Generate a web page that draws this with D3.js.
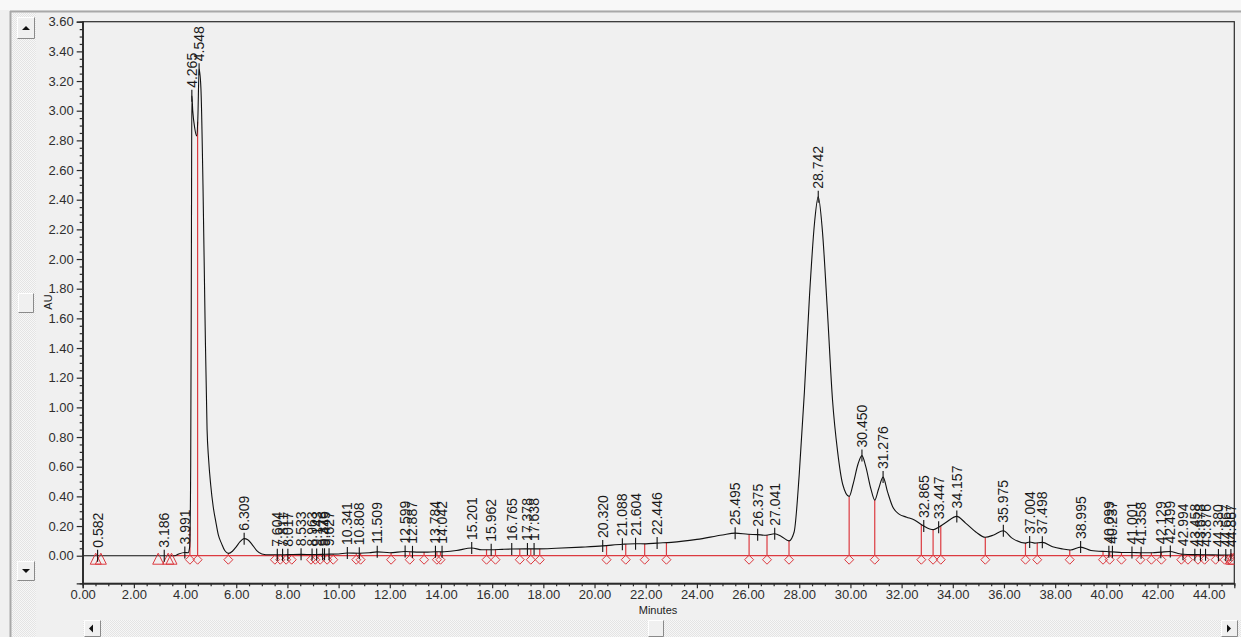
<!DOCTYPE html>
<html><head><meta charset="utf-8">
<script src="https://cdn.jsdelivr.net/npm/d3@7"></script>
<style>
html,body{margin:0;padding:0;background:#f0f0f0;overflow:hidden}
svg{display:block;font-family:"Liberation Sans",Arial,sans-serif}
</style></head><body>
<svg id="chart" width="1241" height="637"></svg>
<script>
// Detector trace: retention time (min) and absorbance (AU)
const traceTime = [0.0, 0.5, 3.0, 3.6, 3.75, 3.991, 4.12, 4.18, 4.22, 4.25, 4.265, 4.30, 4.38, 4.45, 4.50, 4.548, 4.62, 4.70, 4.78, 4.86, 4.92, 5.00, 5.10, 5.20, 5.30, 5.43, 5.55, 5.70, 5.85, 6.00, 6.15, 6.309, 6.45, 6.60, 6.80, 7.00, 7.30, 7.604, 8.0, 8.533, 9.0, 9.5, 10.0, 10.341, 10.808, 11.2, 11.509, 12.0, 12.599, 12.887, 13.4, 13.784, 14.042, 14.6, 15.201, 15.6, 15.962, 16.4, 16.765, 17.3, 17.838, 18.5, 19.5, 20.320, 21.088, 21.604, 22.0, 22.446, 23.0, 24.0, 25.0, 25.495, 26.0, 26.375, 26.7, 27.041, 27.3, 27.6, 27.8, 28.0, 28.2, 28.4, 28.6, 28.742, 28.9, 29.1, 29.3, 29.5, 29.7, 29.95, 30.1, 30.3, 30.45, 30.6, 30.8, 30.95, 31.1, 31.276, 31.45, 31.65, 31.9, 32.2, 32.5, 32.865, 33.1, 33.25, 33.447, 33.7, 34.157, 34.5, 34.9, 35.27, 35.6, 35.975, 36.3, 36.84, 37.004, 37.2, 37.498, 37.9, 38.3, 38.6, 38.995, 39.4, 40.0, 40.237, 40.6, 41.001, 41.358, 41.8, 42.129, 42.499, 42.8, 42.994, 43.5, 44.0, 44.5, 45.0];
const traceAU = [0.0, 0.0, 0.0, 0.0, 0.012, 0.022, 0.02, 0.06, 0.6, 2.2, 3.10, 3.0, 2.88, 2.83, 2.95, 3.28, 3.15, 2.5, 1.6, 0.85, 0.65, 0.48, 0.33, 0.23, 0.14, 0.08, 0.035, 0.016, 0.03, 0.06, 0.095, 0.115, 0.108, 0.08, 0.035, 0.012, 0.006, 0.006, 0.007, 0.009, 0.008, 0.01, 0.012, 0.018, 0.017, 0.02, 0.026, 0.02, 0.028, 0.026, 0.024, 0.027, 0.026, 0.035, 0.052, 0.04, 0.04, 0.043, 0.045, 0.046, 0.046, 0.05, 0.058, 0.066, 0.077, 0.081, 0.08, 0.085, 0.09, 0.11, 0.14, 0.152, 0.145, 0.142, 0.138, 0.148, 0.13, 0.10, 0.16, 0.55, 1.1, 1.75, 2.25, 2.42, 2.2, 1.65, 1.05, 0.7, 0.48, 0.40, 0.48, 0.62, 0.675, 0.6, 0.45, 0.375, 0.45, 0.53, 0.43, 0.33, 0.28, 0.26, 0.24, 0.20, 0.18, 0.176, 0.192, 0.22, 0.265, 0.22, 0.16, 0.124, 0.14, 0.168, 0.12, 0.085, 0.092, 0.085, 0.09, 0.06, 0.045, 0.038, 0.058, 0.035, 0.028, 0.026, 0.022, 0.022, 0.02, 0.02, 0.024, 0.028, 0.015, 0.01, 0.007, 0.006, 0.005, 0.005];

// Integrated peaks (apex retention times)
const peakTimes = [0.582, 3.186, 3.991, 4.265, 4.548, 6.309, 7.604, 7.811, 8.017, 8.533, 8.963, 9.143, 9.376, 9.449, 9.627, 10.341, 10.808, 11.509, 12.599, 12.887, 13.784, 14.042, 15.201, 15.962, 16.765, 17.378, 17.638, 20.320, 21.088, 21.604, 22.446, 25.495, 26.375, 27.041, 28.742, 30.450, 31.276, 32.865, 33.447, 34.157, 35.975, 37.004, 37.498, 38.995, 40.099, 40.237, 41.001, 41.358, 42.129, 42.499, 42.994, 43.458, 43.678, 43.876, 44.380, 44.667, 44.867];

// Peak boundary / drop-line times
const dropTimes = [4.19, 4.49, 5.69, 7.51, 7.72, 7.95, 8.17, 8.92, 9.09, 9.28, 9.55, 9.79, 10.69, 10.86, 12.05, 12.78, 13.34, 13.84, 13.98, 15.78, 16.13, 17.08, 17.51, 17.86, 20.47, 21.22, 21.96, 22.81, 26.04, 26.74, 27.60, 29.95, 30.95, 32.77, 33.23, 33.53, 35.27, 36.84, 37.30, 38.57, 39.87, 40.13, 40.59, 41.33, 41.76, 42.15, 42.93, 43.19, 43.58, 43.84, 44.27, 44.62, 44.79];

// Integration event markers
const eventTimes = [0.51, 0.71, 2.95, 3.34, 3.47, 44.88, 44.96];

// Axis ticks
const xTickValues = [0, 2, 4, 6, 8, 10, 12, 14, 16, 18, 20, 22, 24, 26, 28, 30, 32, 34, 36, 38, 40, 42, 44];
const yTickValues = [0, 0.2, 0.4, 0.6, 0.8, 1.0, 1.2, 1.4, 1.6, 1.8, 2.0, 2.2, 2.4, 2.6, 2.8, 3.0, 3.2, 3.4, 3.6];

const W = 1241, H = 637;
const RED = "#dc3a40";
const svg = d3.select("#chart");

const x = d3.scaleLinear().domain([0, 45]).range([82.7, 1234.3]);
const y = d3.scaleLinear().domain([-0.186, 3.6]).range([583.3, 21.7]);

// linear lookup on the trace
function auAt(t) {
  const i = d3.bisectLeft(traceTime, t);
  if (i <= 0) return traceAU[0];
  if (i >= traceTime.length) return traceAU[traceAU.length - 1];
  const t0 = traceTime[i - 1], t1 = traceTime[i];
  const f = (t - t0) / (t1 - t0);
  return traceAU[i - 1] + f * (traceAU[i] - traceAU[i - 1]);
}

// textures for the scroll tracks
const defs = svg.append("defs");
const pat = defs.append("pattern").attr("id", "hatch").attr("width", 2).attr("height", 2)
  .attr("patternUnits", "userSpaceOnUse");
pat.append("rect").attr("width", 2).attr("height", 2).attr("fill", "#f7f7f7");
pat.append("rect").attr("width", 1).attr("height", 1).attr("fill", "#e4e4e4");
pat.append("rect").attr("x", 1).attr("y", 1).attr("width", 1).attr("height", 1).attr("fill", "#e4e4e4");
defs.append("clipPath").attr("id", "plotClip").append("rect")
  .attr("x", x(0)).attr("y", y(3.6)).attr("width", x(45) - x(0)).attr("height", y(-0.186) - y(3.6));

// window background and frame
svg.append("rect").attr("width", W).attr("height", H).attr("fill", "#f0f0f0");
svg.append("rect").attr("width", W).attr("height", 10).attr("fill", "#f8f8f8");
svg.append("line").attr("x1", 10).attr("x2", W).attr("y1", 11.5).attr("y2", 11.5).attr("stroke", "#a8a8a8").attr("stroke-width", 2);
svg.append("line").attr("x1", 10.5).attr("x2", 10.5).attr("y1", 11).attr("y2", H).attr("stroke", "#a8a8a8").attr("stroke-width", 2);

// vertical scroll strip
svg.append("rect").attr("x", 12).attr("y", 13).attr("width", 24).attr("height", H - 13).attr("fill", "url(#hatch)");
// horizontal scroll strip
svg.append("rect").attr("x", 83).attr("y", 620).attr("width", W - 83).attr("height", 17).attr("fill", "url(#hatch)");

function button(x0, y0, w, h, glyph) {
  const g = svg.append("g");
  g.append("rect").attr("x", x0).attr("y", y0).attr("width", w).attr("height", h).attr("fill", "#f0f0f0");
  g.append("path").attr("d", `M${x0 + 0.5},${y0 + h - 0.5}V${y0 + 0.5}H${x0 + w - 0.5}`).attr("fill", "none").attr("stroke", "#ffffff");
  g.append("path").attr("d", `M${x0 + 0.5},${y0 + h - 0.5}H${x0 + w - 0.5}V${y0 + 0.5}`).attr("fill", "none").attr("stroke", "#8a8a8a");
  if (glyph) g.append("path").attr("d", glyph).attr("fill", "#111");
}
const cx1 = 26, cy1 = 28;
button(17, 17, 18, 22, `M${cx1 - 4},${cy1 + 2}L${cx1 + 4},${cy1 + 2}L${cx1},${cy1 - 2}Z`);
const cy2 = 571;
button(17, 561, 18, 20, `M${cx1 - 4},${cy2 - 2}L${cx1 + 4},${cy2 - 2}L${cx1},${cy2 + 2}Z`);
button(18, 293, 16, 20, null);
button(84, 620, 17, 17, `M89,628.5L93,624.5L93,632.5Z`);
button(1221, 620, 17, 17, `M1231,628.5L1227,624.5L1227,632.5Z`);
button(648, 620, 16, 17, null);

// plot frame
svg.append("rect").attr("x", x(0)).attr("y", y(3.6)).attr("width", x(45) - x(0)).attr("height", y(-0.186) - y(3.6))
  .attr("fill", "#f0f0f0").attr("stroke", "#2a2a2a").attr("stroke-width", 1.2);

const plot = svg.append("g").attr("clip-path", "url(#plotClip)");

// integration baseline
plot.append("line").attr("x1", x(3.34)).attr("x2", x(44.96)).attr("y1", y(0)).attr("y2", y(0))
  .attr("stroke", RED).attr("stroke-width", 1.2);

// drop lines
plot.selectAll(".drop").data(dropTimes).join("line").attr("class", "drop")
  .attr("x1", d => x(d)).attr("x2", d => x(d)).attr("y1", y(0)).attr("y2", d => y(auAt(d)))
  .attr("stroke", RED).attr("stroke-width", 1.2);

// chromatogram trace
const line = d3.line().x(d => x(d[0])).y(d => y(d[1])).curve(d3.curveMonotoneX);
plot.append("path").datum(traceTime.map((t, i) => [t, traceAU[i]]))
  .attr("d", line).attr("fill", "none").attr("stroke", "#111").attr("stroke-width", 1.1);

// boundary diamonds
plot.selectAll(".dia").data(dropTimes).join("path").attr("class", "dia")
  .attr("d", d => { const cx = x(d), cy = y(0) + 4; return `M${cx},${cy - 4.5}L${cx + 4.5},${cy}L${cx},${cy + 4.5}L${cx - 4.5},${cy}Z`; })
  .attr("fill", "none").attr("stroke", RED).attr("stroke-width", 1);

// event triangles
plot.selectAll(".tri").data(eventTimes).join("path").attr("class", "tri")
  .attr("d", d => { const cx = x(d), b = y(0) + 8.5; return `M${cx - 5.5},${b}L${cx + 5.5},${b}L${cx},${b - 11}Z`; })
  .attr("fill", "none").attr("stroke", RED).attr("stroke-width", 1);

// peak apex ticks and retention-time labels
const peaks = svg.append("g");
peaks.selectAll(".ptick").data(peakTimes).join("line").attr("class", "ptick")
  .attr("x1", d => x(d)).attr("x2", d => x(d))
  .attr("y1", d => y(auAt(d)) - 6).attr("y2", d => y(auAt(d)) + 6)
  .attr("stroke", "#111").attr("stroke-width", 1.1);
peaks.selectAll(".plabel").data(peakTimes).join("text").attr("class", "plabel")
  .attr("transform", d => `translate(${x(d)},${y(auAt(d)) - 8}) rotate(-90)`)
  .attr("text-anchor", "start").attr("dominant-baseline", "central")
  .attr("font-size", 14).attr("fill", "#1a1a1a")
  .text(d => d.toFixed(3));

// axes
const axisColor = "#2a2a2a";
const yAxis = svg.append("g").attr("transform", `translate(${x(0)},0)`)
  .call(d3.axisLeft(y).tickValues(yTickValues).tickFormat(d3.format(".2f")).tickSize(6).tickPadding(3));
const yMinor = svg.append("g").attr("transform", `translate(${x(0)},0)`)
  .call(d3.axisLeft(y).tickValues(d3.range(0, 3.6, 0.05).filter(v => Math.round(v * 100) % 20 !== 0)).tickFormat("").tickSize(3));
const xAxis = svg.append("g").attr("transform", `translate(0,${y(-0.186)})`)
  .call(d3.axisBottom(x).tickValues(xTickValues).tickFormat(d3.format(".2f")).tickSize(5).tickPadding(1));
const xMinor = svg.append("g").attr("transform", `translate(0,${y(-0.186)})`)
  .call(d3.axisBottom(x).tickValues(d3.range(0.5, 45, 0.5).filter(v => v % 2 !== 0)).tickFormat("").tickSize(3));
[yAxis, yMinor, xAxis, xMinor].forEach(g => {
  g.select(".domain").attr("stroke", axisColor).attr("stroke-width", 1.2);
  g.selectAll(".tick line").attr("stroke", axisColor).attr("stroke-width", 1.2);
  g.selectAll(".tick text").attr("font-size", 13).attr("fill", "#2e2e2e")
    .attr("font-family", '"Liberation Sans",Arial,sans-serif');
});

// axis titles
svg.append("text").attr("x", 658).attr("y", 614).attr("text-anchor", "middle")
  .attr("font-size", 11).attr("fill", "#222").text("Minutes");
svg.append("text").attr("transform", "translate(52,302) rotate(-90)").attr("text-anchor", "middle")
  .attr("font-size", 11).attr("fill", "#222").text("AU");
</script>
</body></html>
